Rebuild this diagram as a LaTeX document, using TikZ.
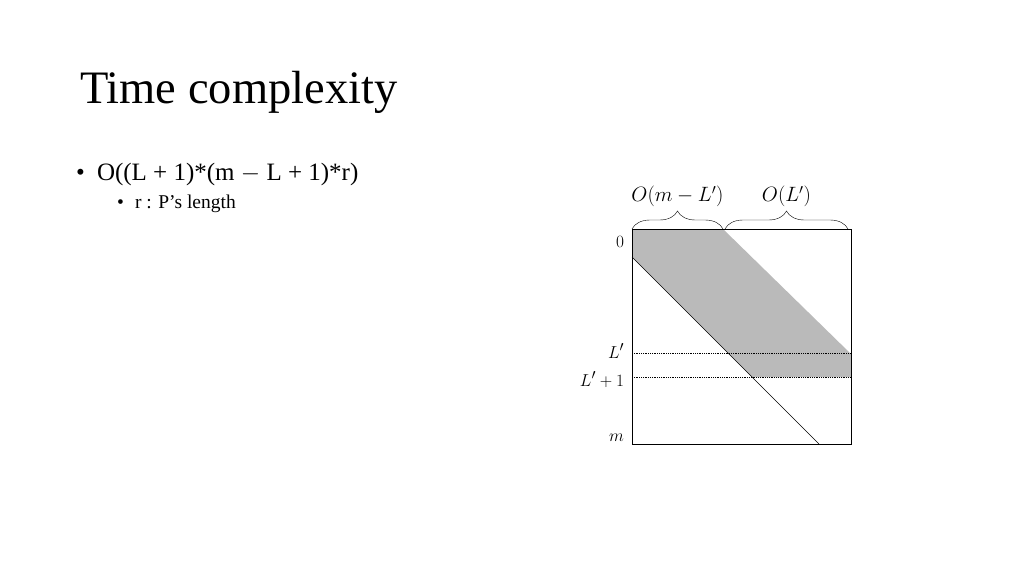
\documentclass[tikz,border=0pt]{standalone}
\usepackage{fontspec}
\setmainfont{Liberation Serif}
\usepackage{amsmath}
\usepackage{tikz}
\usetikzlibrary{decorations.pathreplacing}

\begin{document}
\begin{tikzpicture}[x=1pt,y=-1pt,semithick]
  \tikzstyle{every node}=[inner sep=0pt,outer sep=0pt,text=black]
  \tikzstyle{axislbl}=[anchor=base east,font=\fontsize{19}{21}\selectfont]
  \tikzstyle{bracelbl}=[anchor=base,font=\fontsize{21}{23}\selectfont]
  \tikzstyle{brc}=[decorate,decoration={brace,amplitude=18pt},thin]
  \tikzstyle{dots}=[densely dotted,thick]

  \useasboundingbox (0,0) rectangle (1024,576);

  % slide text
  \node[anchor=base west,font=\fontsize{46.5}{50}\selectfont] (title) at (80,103) {Time complexity};
  \node[anchor=base west,font=\fontsize{25}{28}\selectfont] (dot1) at (76,180) {\textbullet};
  \node[anchor=base west,font=\fontsize{25}{28}\selectfont] (b1) at (97,180) {O((L + 1)*(m $-$ L + 1)*r)};
  \node[anchor=base west,font=\fontsize{19.5}{22}\selectfont] (dot2) at (117,208) {\textbullet};
  \node[anchor=base west,font=\fontsize{19.5}{22}\selectfont] (b2) at (135,208) {r : P's length};

  % corners of the table
  \coordinate (tl) at (632,229);
  \coordinate (tr) at (851,229);
  \coordinate (bl) at (632,444);
  \coordinate (br) at (851,444);
  \coordinate (split) at (723,229);
  \coordinate (diagA) at (632,257);
  \coordinate (diagB) at (819,444);
  \coordinate (shadeR) at (851,354);
  \coordinate (lpL) at (632,353);
  \coordinate (lpR) at (851,353);
  \coordinate (lqL) at (632,377);
  \coordinate (lqR) at (851,377);
  \coordinate (lqX) at (752,377);

  % shaded band
  \fill[black!27] (tl) -- (split) -- (shadeR) -- (lqR) -- (lqX) -- (diagA) -- cycle;

  \draw[thin] (tl) rectangle (br);
  \draw[thin] (diagA) -- (diagB);
  \draw[dots] (lpL) -- (lpR);
  \draw[dots] (lqL) -- (lqR);

  % row labels
  \node[axislbl] (zero) at (624,247) {$0$};
  \node[axislbl] (lp)   at (624,358) {$L'$};
  \node[axislbl] (lq)   at (624,386) {$L'+1$};
  \node[axislbl] (em)   at (624,441) {$m$};

  % braces on top
  \draw[brc] (tl) -- node[bracelbl,above=22pt] (bl1) {$O(m-L')$} (split);
  \draw[brc] ([xshift=2pt]split) -- node[bracelbl,above=22pt] (bl2) {$O(L')$} ([xshift=-3pt]tr);
\end{tikzpicture}
\end{document}
